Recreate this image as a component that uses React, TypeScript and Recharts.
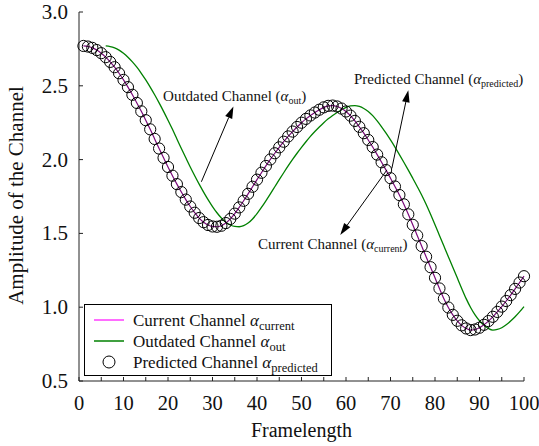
import React from 'react';
import {
  ComposedChart,
  Legend,
  Line,
  ReferenceDot,
  ReferenceLine,
  XAxis,
  YAxis,
} from 'recharts';

// frame index 1..100
const frames = Array.from({ length: 100 }, (_, i) => i + 1);

// current channel amplitude per frame
const current = [
  2.770, 2.766, 2.757, 2.742, 2.721, 2.694, 2.662, 2.626, 2.585, 2.540,
  2.491, 2.439, 2.384, 2.327, 2.267, 2.205, 2.140, 2.075, 2.012, 1.950,
  1.891, 1.834, 1.780, 1.729, 1.682, 1.640, 1.604, 1.576, 1.557, 1.547,
  1.545, 1.552, 1.570, 1.598, 1.634, 1.676, 1.721, 1.768, 1.816, 1.864,
  1.911, 1.957, 2.001, 2.043, 2.083, 2.121, 2.157, 2.190, 2.221, 2.250,
  2.276, 2.299, 2.319, 2.338, 2.354, 2.364, 2.366, 2.360, 2.346, 2.326,
  2.298, 2.262, 2.222, 2.179, 2.133, 2.085, 2.034, 1.982, 1.929, 1.874,
  1.818, 1.760, 1.697, 1.629, 1.558, 1.486, 1.414, 1.342, 1.271, 1.199,
  1.127, 1.058, 0.998, 0.948, 0.908, 0.877, 0.856, 0.845, 0.849, 0.861,
  0.881, 0.906, 0.935, 0.968, 1.004, 1.042, 1.082, 1.124, 1.167, 1.210,
];

// predictor output lands on the current channel
const predicted = current;

// outdated (delayed) channel, first sample at frame 6
const outdatedStart = 6;
const outdated = [
  2.770, 2.766, 2.757, 2.742, 2.721, 2.694, 2.662, 2.626, 2.585, 2.540,
  2.491, 2.439, 2.384, 2.327, 2.267, 2.205, 2.140, 2.075, 2.012, 1.950,
  1.891, 1.834, 1.780, 1.729, 1.682, 1.640, 1.604, 1.576, 1.557, 1.547,
  1.545, 1.552, 1.570, 1.598, 1.634, 1.676, 1.721, 1.768, 1.816, 1.864,
  1.911, 1.957, 2.001, 2.043, 2.083, 2.121, 2.157, 2.190, 2.221, 2.250,
  2.276, 2.299, 2.319, 2.338, 2.354, 2.364, 2.366, 2.360, 2.346, 2.326,
  2.298, 2.262, 2.222, 2.179, 2.133, 2.085, 2.034, 1.982, 1.929, 1.874,
  1.818, 1.760, 1.697, 1.629, 1.558, 1.486, 1.414, 1.342, 1.271, 1.199,
  1.127, 1.058, 0.998, 0.948, 0.908, 0.877, 0.856, 0.845, 0.849, 0.861,
  0.881, 0.906, 0.935, 0.968, 1.004,
];

const xTicks = [0, 5, 10, 15, 20, 25, 30, 35, 40, 45, 50, 55, 60, 65, 70, 75, 80, 85, 90, 95, 100];
const yTicks = [0.5, 1.0, 1.5, 2.0, 2.5, 3.0];

const legendRows = [
  { name: 'Current Channel', sub: 'current', kind: 'line', color: '#ff3cff' },
  { name: 'Outdated Channel', sub: 'out', kind: 'line', color: '#008000' },
  { name: 'Predicted Channel', sub: 'predicted', kind: 'circle', color: '#000' },
];

const notes = [
  { name: 'Outdated Channel', sub: 'out', x: 18.9, y: 2.4 },
  { name: 'Predicted Channel', sub: 'predicted', x: 61.8, y: 2.51 },
  { name: 'Current Channel', sub: 'current', x: 40.2, y: 1.394 },
];

const arrows = [
  { from: { x: 27.5, y: 1.85 }, to: { x: 34.7, y: 2.36 } },
  { from: { x: 70.3, y: 1.94 }, to: { x: 74.0, y: 2.47 } },
  { from: { x: 69.2, y: 1.93 }, to: { x: 58.7, y: 1.49 } },
];

const data = frames.map((f, i) => ({
  frame: f,
  current: current[i],
  predicted: predicted[i],
  outdated: f >= outdatedStart ? outdated[f - outdatedStart] : null,
}));

const FONT = "'Liberation Serif', 'Times New Roman', serif";
const TICK_LEN = 4;

const BottomTick = (p: any) => {
  const v = p.payload.value;
  return (
    <g>
      <line x1={p.x} y1={p.y} x2={p.x} y2={p.y - TICK_LEN} stroke="#222" />
      {v % 10 === 0 && (
        <text x={p.x} y={p.y + 29} textAnchor="middle" fontFamily={FONT} fontSize={20.5} fill="#111">
          {v}
        </text>
      )}
    </g>
  );
};

const TopTick = (p: any) => (
  <line x1={p.x} y1={p.y} x2={p.x} y2={p.y + TICK_LEN} stroke="#222" />
);

const LeftTick = (p: any) => (
  <g>
    <line x1={p.x} y1={p.y} x2={p.x + TICK_LEN} y2={p.y} stroke="#222" />
    <text x={p.x - 11} y={p.y + 7} textAnchor="end" fontFamily={FONT} fontSize={21} fill="#111">
      {Number(p.payload.value).toFixed(1)}
    </text>
  </g>
);

const RightTick = (p: any) => (
  <line x1={p.x} y1={p.y} x2={p.x - TICK_LEN} y2={p.y} stroke="#222" />
);

const Arrow = (p: any) => {
  const { x1, y1, x2, y2 } = p;
  const a = Math.atan2(y2 - y1, x2 - x1);
  const len = 12;
  const half = 3.8;
  const bx = x2 - len * Math.cos(a);
  const by = y2 - len * Math.sin(a);
  const nx = -Math.sin(a) * half;
  const ny = Math.cos(a) * half;
  return (
    <g>
      <line x1={x1} y1={y1} x2={bx} y2={by} stroke="#000" strokeWidth={1} />
      <polygon points={`${x2},${y2} ${bx + nx},${by + ny} ${bx - nx},${by - ny}`} fill="#000" />
    </g>
  );
};

const Note = ({ cx, cy, name, sub }: any) => (
  <text x={cx} y={cy} fontFamily={FONT} fontSize={15} fill="#111">
    {name} (<tspan fontStyle="italic">α</tspan>
    <tspan fontSize={10} dy={3}>{sub}</tspan>
    <tspan dy={-3}>)</tspan>
  </text>
);

const renderLegend = () => (
  <svg width={248} height={72} style={{ display: 'block' }}>
    <rect x={0.5} y={0.5} width={247} height={71} fill="#fff" stroke="#000" />
    {legendRows.map((r, i) => {
      const cy = 16 + 21 * i;
      return (
        <g key={r.name}>
          {r.kind === 'line' ? (
            <line x1={10} x2={40} y1={cy} y2={cy} stroke={r.color} strokeWidth={1.5} />
          ) : (
            <circle cx={25} cy={cy} r={6} fill="none" stroke={r.color} />
          )}
          <text x={49} y={cy + 5.5} fontFamily={FONT} fontSize={17} fill="#111">
            {r.name} <tspan fontStyle="italic">α</tspan>
            <tspan fontSize={12.5} dy={4}>{r.sub}</tspan>
          </text>
        </g>
      );
    })}
  </svg>
);

const XTitle = (p: any) => {
  const vb = p.viewBox;
  return (
    <text x={vb.x + vb.width / 2} y={vb.y + 56} textAnchor="middle" fontFamily={FONT} fontSize={20} fill="#111">
      Framelength
    </text>
  );
};

const YTitle = (p: any) => {
  const vb = p.viewBox;
  const x = vb.x + 23;
  const y = vb.y + vb.height / 2 - 1;
  return (
    <text x={x} y={y} transform={`rotate(-90, ${x}, ${y})`} textAnchor="middle" fontFamily={FONT} fontSize={21} fill="#111">
      Amplitude of the Channel
    </text>
  );
};

export default function App() {
  return (
    <div style={{ position: 'absolute', left: 0, top: 0, width: 539, height: 446, background: '#fff' }}>
      <ComposedChart width={539} height={446} data={data} margin={{ top: 12, right: 15, bottom: 0, left: 0 }}>
        <XAxis
          dataKey="frame"
          type="number"
          domain={[0, 100]}
          ticks={xTicks}
          interval={0}
          height={65}
          tickSize={0}
          tickMargin={0}
          tickLine={false}
          axisLine={{ stroke: '#222' }}
          tick={BottomTick}
          label={XTitle}
        />
        <XAxis
          xAxisId="top"
          orientation="top"
          type="number"
          domain={[0, 100]}
          allowDataOverflow
          ticks={xTicks}
          interval={0}
          height={0}
          tickSize={0}
          tickLine={false}
          axisLine={{ stroke: '#222' }}
          tick={TopTick}
        />
        <YAxis
          type="number"
          domain={[0.5, 3]}
          ticks={yTicks}
          interval={0}
          width={79}
          tickSize={0}
          tickMargin={0}
          tickLine={false}
          axisLine={{ stroke: '#222' }}
          tick={LeftTick}
          label={YTitle}
        />
        <YAxis
          yAxisId="right"
          orientation="right"
          type="number"
          domain={[0.5, 3]}
          allowDataOverflow
          ticks={yTicks}
          interval={0}
          width={0}
          tickSize={0}
          tickLine={false}
          axisLine={{ stroke: '#222' }}
          tick={RightTick}
        />
        <Line
          dataKey="outdated"
          type="monotone"
          stroke="#008000"
          strokeWidth={1.3}
          dot={false}
          isAnimationActive={false}
        />
        <Line
          dataKey="current"
          type="monotone"
          stroke="#7a0a7a"
          strokeWidth={1.2}
          dot={false}
          isAnimationActive={false}
        />
        <Line
          dataKey="predicted"
          stroke="none"
          dot={{ r: 5.6, stroke: '#000', strokeWidth: 1, fill: 'none' }}
          isAnimationActive={false}
        />
        {arrows.map((a, i) => (
          <ReferenceLine key={`arrow-${i}`} segment={[a.from, a.to]} shape={Arrow} />
        ))}
        {notes.map((n) => (
          <ReferenceDot
            key={n.name}
            x={n.x}
            y={n.y}
            r={0}
            shape={(p: any) => <Note cx={p.cx} cy={p.cy} name={n.name} sub={n.sub} />}
          />
        ))}
        <Legend
          layout="vertical"
          align="center"
          verticalAlign="middle"
          content={renderLegend}
          wrapperStyle={{ left: 84, top: 304, width: 248, height: 72, lineHeight: 0 }}
        />
      </ComposedChart>
    </div>
  );
}
